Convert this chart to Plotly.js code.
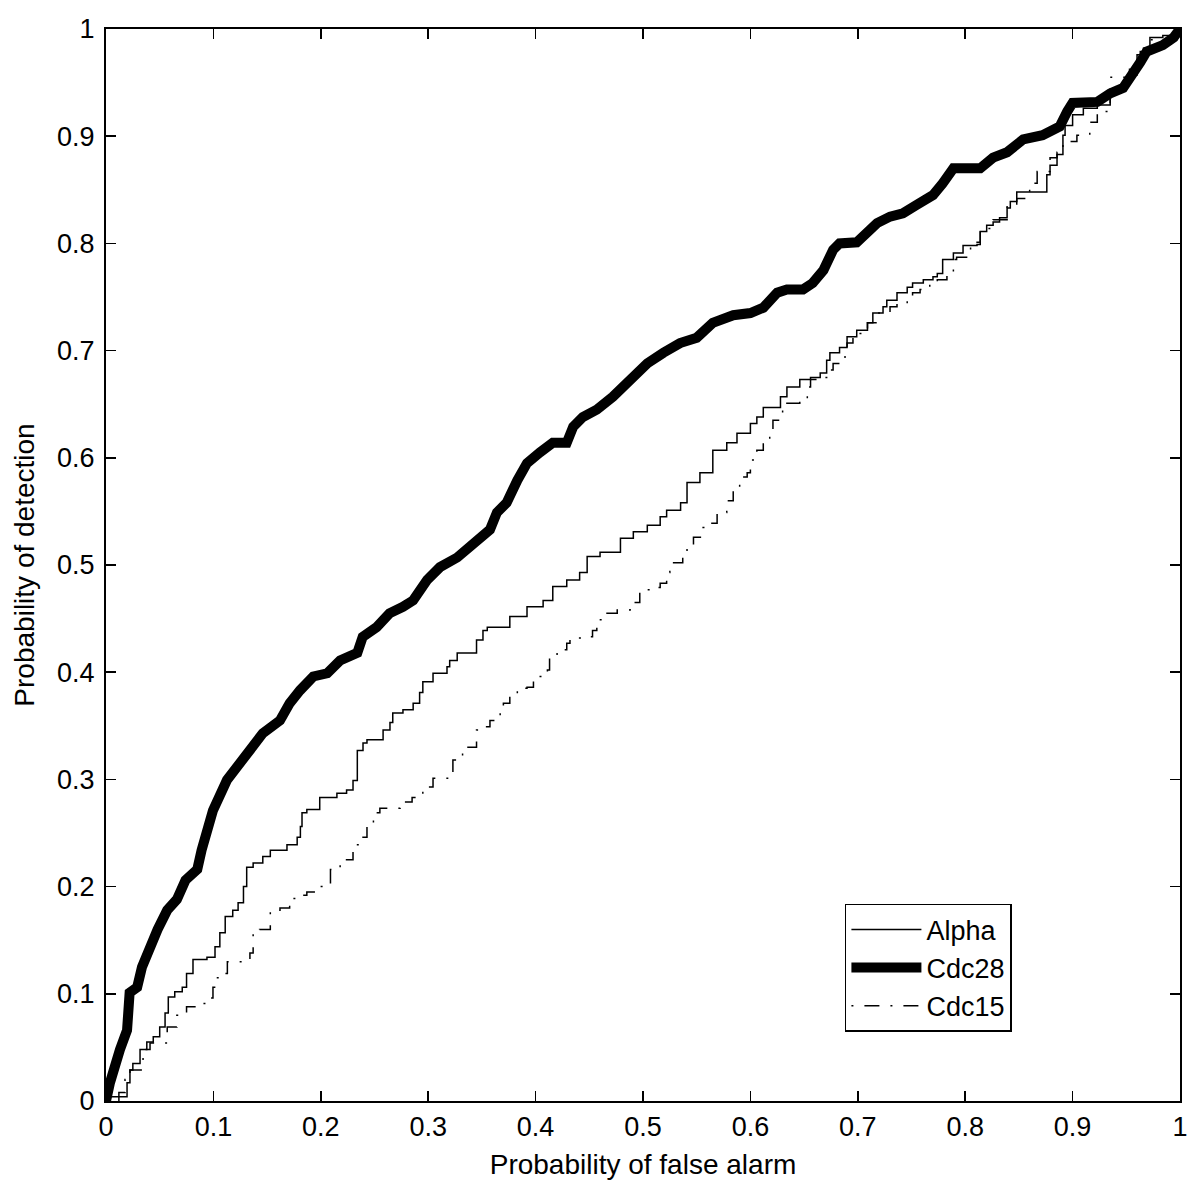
<!DOCTYPE html>
<html>
<head>
<meta charset="utf-8">
<script src="https://cdn.plot.ly/plotly-3.0.1.min.js"></script>
<style>html,body{margin:0;padding:0;background:#fff;}#chart{width:1200px;height:1188px;}</style>
</head>
<body>
<div id="chart"></div>
<script>
const seriesNames = ["Alpha", "Cdc28", "Cdc15"];
const xTitle = "Probability of false alarm";
const yTitle = "Probability of detection";
const tickVals = [0, 0.1, 0.2, 0.3, 0.4, 0.5, 0.6, 0.7, 0.8, 0.9, 1];
const tickLabels = ["0", "0.1", "0.2", "0.3", "0.4", "0.5", "0.6", "0.7", "0.8", "0.9", "1"];

const cdc28X = [0,0.0037,0.013,0.0196,0.022,0.029,0.0335,0.041,0.048,0.057,0.066,0.074,0.085,0.089,0.0996,0.1127,0.1276,0.146,0.162,0.171,0.1806,0.193,0.206,0.218,0.234,0.239,0.252,0.264,0.2765,0.286,0.299,0.311,0.327,0.336,0.348,0.3575,0.364,0.373,0.383,0.392,0.404,0.416,0.429,0.435,0.444,0.457,0.472,0.488,0.504,0.519,0.5345,0.55,0.565,0.584,0.600,0.612,0.625,0.634,0.649,0.658,0.668,0.677,0.683,0.699,0.709,0.718,0.730,0.742,0.755,0.770,0.779,0.789,0.814,0.826,0.839,0.854,0.872,0.888,0.895,0.900,0.923,0.935,0.947,0.956,0.963,0.969,0.984,0.994,1];
const cdc28Y = [0,0.017,0.048,0.066,0.101,0.106,0.125,0.144,0.160,0.178,0.188,0.206,0.216,0.234,0.271,0.2995,0.318,0.343,0.355,0.371,0.383,0.396,0.399,0.411,0.418,0.433,0.442,0.455,0.461,0.467,0.486,0.498,0.507,0.514,0.526,0.533,0.549,0.558,0.579,0.595,0.605,0.614,0.614,0.629,0.638,0.645,0.657,0.673,0.688,0.698,0.707,0.712,0.726,0.733,0.735,0.740,0.754,0.757,0.757,0.763,0.775,0.794,0.800,0.801,0.810,0.819,0.825,0.828,0.836,0.845,0.856,0.870,0.870,0.880,0.885,0.897,0.901,0.909,0.923,0.931,0.932,0.940,0.945,0.957,0.969,0.979,0.985,0.992,1];

const alphaX = [0,0.002,0.018,0.0196,0.0223,0.025,0.0317,0.038,0.044,0.050,0.055,0.058,0.064,0.071,0.075,0.081,0.094,0.1015,0.106,0.111,0.118,0.123,0.128,0.131,0.137,0.146,0.153,0.1685,0.178,0.181,0.1825,0.187,0.199,0.211,0.215,0.224,0.230,0.234,0.2393,0.243,0.2523,0.258,0.2644,0.267,0.2765,0.286,0.292,0.295,0.3045,0.3175,0.320,0.327,0.339,0.345,0.351,0.355,0.370,0.376,0.392,0.407,0.416,0.429,0.441,0.448,0.46,0.479,0.491,0.504,0.516,0.522,0.535,0.541,0.553,0.565,0.578,0.5875,0.600,0.606,0.612,0.628,0.634,0.646,0.656,0.665,0.671,0.674,0.683,0.690,0.699,0.709,0.714,0.7235,0.727,0.7365,0.746,0.751,0.761,0.770,0.774,0.779,0.789,0.798,0.811,0.814,0.820,0.826,0.832,0.839,0.842,0.848,0.867,0.876,0.879,0.8855,0.891,0.893,0.900,0.910,0.923,0.935,0.947,0.953,0.960,0.966,0.972,0.984,0.997,1];
const alphaY = [0,0.004,0.004,0.017,0.029,0.035,0.048,0.055,0.060,0.069,0.082,0.097,0.102,0.106,0.119,0.132,0.134,0.144,0.157,0.172,0.178,0.185,0.200,0.218,0.222,0.228,0.234,0.239,0.246,0.256,0.269,0.272,0.283,0.283,0.287,0.290,0.299,0.327,0.334,0.337,0.337,0.346,0.353,0.362,0.365,0.371,0.381,0.391,0.399,0.405,0.411,0.418,0.418,0.430,0.439,0.442,0.442,0.452,0.461,0.467,0.480,0.486,0.493,0.508,0.512,0.525,0.531,0.537,0.545,0.551,0.558,0.577,0.586,0.607,0.614,0.623,0.632,0.638,0.647,0.657,0.666,0.673,0.675,0.679,0.691,0.698,0.703,0.713,0.719,0.726,0.735,0.741,0.747,0.754,0.759,0.763,0.766,0.769,0.772,0.785,0.791,0.798,0.799,0.811,0.817,0.820,0.824,0.833,0.839,0.848,0.848,0.864,0.873,0.883,0.901,0.910,0.920,0.926,0.929,0.941,0.951,0.957,0.976,0.982,0.992,0.994,0.999,1];

const cdc15X = [0,0.012,0.0177,0.0223,0.0345,0.041,0.057,0.066,0.075,0.085,0.094,0.0996,0.103,0.109,0.113,0.128,0.134,0.137,0.143,0.153,0.162,0.171,0.181,0.187,0.199,0.209,0.218,0.230,0.237,0.243,0.249,0.255,0.267,0.274,0.285,0.295,0.3045,0.323,0.332,0.345,0.351,0.3575,0.367,0.370,0.376,0.383,0.392,0.398,0.411,0.413,0.420,0.429,0.432,0.448,0.453,0.457,0.4665,0.476,0.488,0.497,0.509,0.516,0.522,0.525,0.537,0.541,0.547,0.556,0.5624,0.569,0.578,0.584,0.590,0.597,0.600,0.606,0.612,0.618,0.621,0.630,0.634,0.646,0.653,0.656,0.665,0.671,0.677,0.683,0.690,0.6955,0.699,0.709,0.718,0.7235,0.730,0.7365,0.746,0.751,0.758,0.767,0.774,0.783,0.789,0.792,0.805,0.814,0.826,0.839,0.848,0.860,0.863,0.867,0.879,0.8855,0.891,0.904,0.913,0.916,0.923,0.935,0.947,0.953,0.963,0.972,0.997,1];
const cdc15Y = [0,0.008,0.020,0.029,0.048,0.054,0.069,0.080,0.088,0.091,0.096,0.106,0.115,0.119,0.130,0.130,0.138,0.157,0.160,0.178,0.180,0.189,0.192,0.195,0.200,0.216,0.225,0.239,0.246,0.256,0.269,0.273,0.273,0.279,0.283,0.293,0.301,0.318,0.330,0.346,0.349,0.355,0.365,0.371,0.379,0.385,0.386,0.396,0.402,0.414,0.421,0.427,0.432,0.433,0.439,0.449,0.455,0.458,0.465,0.477,0.479,0.483,0.493,0.502,0.508,0.517,0.526,0.535,0.539,0.549,0.560,0.573,0.582,0.586,0.598,0.607,0.617,0.626,0.635,0.647,0.651,0.654,0.666,0.673,0.675,0.682,0.688,0.694,0.707,0.713,0.716,0.726,0.735,0.735,0.741,0.744,0.747,0.754,0.757,0.763,0.766,0.772,0.785,0.787,0.801,0.814,0.822,0.835,0.842,0.852,0.856,0.867,0.880,0.885,0.895,0.901,0.901,0.913,0.923,0.955,0.955,0.964,0.979,0.990,0.997,1];

const FONT = "Liberation Sans, Arial, Helvetica, sans-serif";

const traces = [
  {x: alphaX, y: alphaY, name: seriesNames[0], type: "scatter", mode: "lines",
   line: {color: "#000", width: 1.5, shape: "hv"}},
  {x: cdc28X, y: cdc28Y, name: seriesNames[1], type: "scatter", mode: "lines",
   line: {color: "#000", width: 10, shape: "linear"}},
  {x: cdc15X, y: cdc15Y, name: seriesNames[2], type: "scatter", mode: "lines",
   line: {color: "#000", width: 1.5, shape: "hv", dash: "2px,11px,15px,11px"}}
];

const axisCommon = {
  range: [0, 1], tickvals: tickVals, ticktext: tickLabels,
  ticks: "inside", ticklen: 10, tickwidth: 1.5, tickcolor: "#000",
  showline: true, linewidth: 2, linecolor: "#000", mirror: "ticks",
  showgrid: false, zeroline: false,
  tickfont: {family: FONT, size: 27, color: "#000"},
  fixedrange: true
};

const layout = {
  width: 1200, height: 1188,
  margin: {l: 106, r: 20, t: 29, b: 87},
  paper_bgcolor: "#fff", plot_bgcolor: "#fff",
  font: {family: FONT, color: "#000"},
  showlegend: true,
  xaxis: Object.assign({}, axisCommon, {
    ticklabelstandoff: 1,
    title: {text: xTitle, font: {family: FONT, size: 28, color: "#000"}, standoff: 13}
  }),
  yaxis: Object.assign({}, axisCommon, {
    ticklabelstandoff: 4,
    title: {text: yTitle, font: {family: FONT, size: 28, color: "#000"}, standoff: 14}
  }),
  legend: {
    x: 0.688, y: 0.1838, xanchor: "left", yanchor: "top",
    bgcolor: "#fff", bordercolor: "#000", borderwidth: 1.5,
    font: {family: FONT, size: 27, color: "#000"},
    tracegroupgap: 0, itemwidth: 70, entrywidth: 180, entrywidthmode: "pixels"
  }
};

Plotly.newPlot("chart", traces, layout, {staticPlot: true, displayModeBar: false});
</script>
</body>
</html>
